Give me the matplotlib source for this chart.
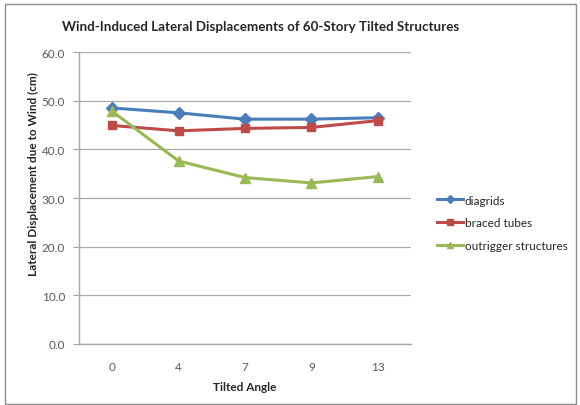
import matplotlib
matplotlib.use("Agg")
import matplotlib.pyplot as plt
from matplotlib.patches import Rectangle

categories = ["0", "4", "7", "9", "13"]
diagrids = [48.5, 47.5, 46.2, 46.2, 46.5]
braced_tubes = [44.9, 43.8, 44.3, 44.5, 45.9]
outrigger = [47.8, 37.6, 34.2, 33.1, 34.4]
yticks = [0, 10, 20, 30, 40, 50, 60]

plt.rcParams['font.family'] = ['Lato', 'DejaVu Sans']

W, H = 580, 406
fig = plt.figure(figsize=(W/100, H/100), dpi=100)
fig.patch.set_facecolor('white')
fig.add_artist(Rectangle((5/W, 1/H), 571/W, 400/H, transform=fig.transFigure,
                         fill=False, edgecolor='#8c8c8c', linewidth=1.0))

ax = fig.add_axes([79/W, 1 - 345/H, 332/W, 292/H])
x = list(range(len(categories)))
ax.plot(x, diagrids, color='#4A7EBB', marker='D', markersize=6, linewidth=2.2, label='diagrids')
ax.plot(x, braced_tubes, color='#BE4B48', marker='s', markersize=6, linewidth=2.2, label='braced tubes')
ax.plot(x, outrigger, color='#98B954', marker='^', markersize=7, linewidth=2.2, label='outrigger structures')

ax.set_xlim(-0.5, len(categories) - 0.5)
ax.set_ylim(0, 60)
ax.set_yticks(yticks)
ax.set_yticklabels([f"{v:.1f}" for v in yticks])
ax.set_xticks(x)
ax.set_xticklabels(categories)
ax.yaxis.grid(True, color='#ababab', linewidth=0.9)
ax.set_axisbelow(True)
for s in ['top', 'right']:
    ax.spines[s].set_visible(False)
for s in ['left', 'bottom']:
    ax.spines[s].set_color('#a6a6a6')
    ax.spines[s].set_linewidth(1.0)
ax.tick_params(axis='y', length=4, color='#a6a6a6', labelsize=8.5, labelcolor='#595959', pad=6)
ax.tick_params(axis='x', length=0, labelsize=8.5, labelcolor='#595959', pad=12)

ax.set_xlabel('Tilted Angle', fontsize=8.5, fontweight='bold', color='#262626', labelpad=7)
fig.text(33/W, 1 - 174/H, 'Lateral Displacement due to Wind (cm)', rotation=90,
         ha='center', va='center', fontsize=8.5, fontweight='bold', color='#262626')

fig.text(261/W, 1 - 27/H, 'Wind-Induced Lateral Displacements of 60-Story Tilted Structures',
         ha='center', va='center', fontsize=9.6, fontweight='bold', color='#262626')

leg = ax.legend(loc='upper left', bbox_to_anchor=(426/W, 1 - 185/H), bbox_transform=fig.transFigure,
                frameon=False, fontsize=8.5, handlelength=2.2, labelspacing=1.0,
                markerscale=0.7, handletextpad=0.2)
for t in leg.get_texts():
    t.set_color('#262626')

fig.savefig('out.png', dpi=100)
